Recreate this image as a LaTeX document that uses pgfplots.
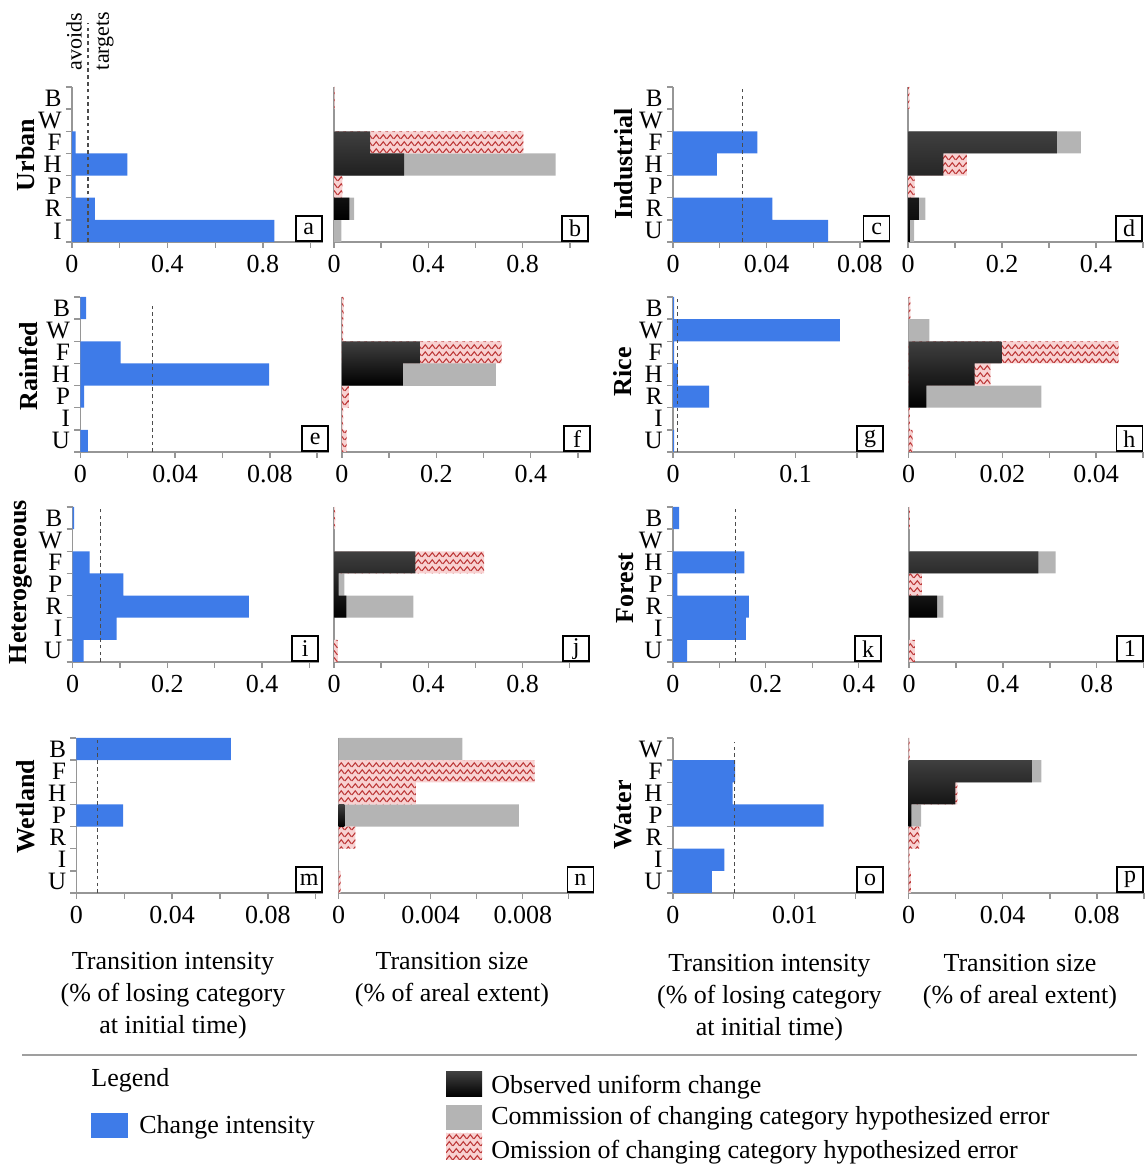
\documentclass[border=0pt]{standalone}
\usepackage{fontspec}
\setmainfont{Liberation Serif}
\usepackage{pgfplots}
\pgfplotsset{compat=1.18}
\usetikzlibrary{patterns.meta}
\definecolor{cblue}{RGB}{62,123,232}
\definecolor{cgray}{RGB}{180,180,180}
\definecolor{cpink}{RGB}{248,210,210}
\definecolor{czig}{RGB}{190,60,60}
\definecolor{caxis}{RGB}{150,150,150}
\tikzdeclarepattern{
  name=zigzag,
  type=uncolored,
  bounding box={(0pt,0pt) and (3.6pt,3.6pt)},
  tile size={(3.6pt,3.6pt)},
  code={\draw[line width=0.6pt] (0pt,0.6pt) -- (1.8pt,2.9pt) -- (3.6pt,0.6pt);}
}
\pgfplotsset{
  panel/.style={
    scale only axis, height=77.5pt, anchor=south west, clip=false,
    xmin=0, ymin=-0.5, ymax=6.5,
    axis x line*=bottom, axis y line*=left,
    axis line style={draw=caxis, line width=0.7pt, -},
    tick align=outside, major tick length=3pt, minor tick length=3pt,
    tick style={draw=caxis, line width=0.7pt},
    ytick={0,...,6},
    major y tick style={draw=none},
    minor ytick={-0.5,0.5,1.5,2.5,3.5,4.5,5.5,6.5},
    yticklabel style={font=\fontsize{12.5}{12.5}\selectfont, inner sep=2pt},
    xticklabel style={font=\fontsize{13}{13}\selectfont},
    /pgf/number format/fixed, /pgf/number format/precision=3,
    /pgf/number format/assume math mode=true,
    scaled x ticks=false,
  },
  sizepanel/.style={panel, ytick=\empty},
  blue/.style={xbar, bar shift=0pt, bar width=1, fill=cblue, draw=none},
  obs/.style={xbar, bar shift=0pt, bar width=1, draw=none, top color=gray!50!black, bottom color=black},
  com/.style={xbar, bar shift=0pt, bar width=1, draw=none, fill=cgray},
  omi/.style={xbar, bar shift=0pt, bar width=1, draw=none, fill=cpink, postaction={pattern=zigzag, pattern color=czig}},
  unif/.style={draw=black!70, line width=0.8pt, dash pattern=on 1.8pt off 1.6pt, mark=none},
}
\newcommand{\plabel}[1]{\node[draw=black, line width=0.8pt, fill=white, anchor=south east, minimum width=13pt, minimum height=12.5pt, inner sep=0pt, font=\fontsize{12}{12}\selectfont] at (rel axis cs:1,0) {#1};}
\begin{document}
\begin{tikzpicture}
\useasboundingbox (0pt,0pt) rectangle (573pt,583.5pt);
% ---------------- Row 1 ----------------
\begin{axis}[panel, at={(36pt,462.5pt)}, width=125.3pt, xmax=1.05,
  xtick={0,0.4,0.8}, minor xtick={0.2,0.6,1.0}, yticklabels={I,R,P,H,F,W,B}]
\addplot[blue] coordinates {(0.015,4)(0.232,3)(0.015,2)(0.096,1)(0.848,0)};
\addplot[unif] coordinates {(0.067,-0.5)(0.067,9.4)};
\plabel{a}
\end{axis}
\begin{axis}[sizepanel, at={(167pt,462.5pt)}, width=127.4pt, xmax=1.08,
  xtick={0,0.4,0.8}, minor xtick={0.2,0.6,1.0}]
\addplot[com] coordinates {(0.939,3)(0.085,1)(0.031,0)};
\addplot[omi] coordinates {(0.003,6)(0.803,4)(0.036,2)};
\addplot[obs] coordinates {(0.153,4)(0.297,3)(0.065,1)};
\plabel{b}
\end{axis}
\begin{axis}[panel, at={(336.5pt,462.5pt)}, width=108.7pt, xmax=0.093,
  xtick={0,0.04,0.08}, minor xtick={0.02,0.06}, yticklabels={U,R,P,H,F,W,B}]
\addplot[blue] coordinates {(0.0361,4)(0.0188,3)(0.0425,1)(0.0664,0)};
\addplot[unif] coordinates {(0.0297,-0.5)(0.0297,6.5)};
\plabel{c}
\end{axis}
\begin{axis}[sizepanel, at={(454pt,462.5pt)}, width=117.5pt, xmax=0.5,
  xtick={0,0.2,0.4}, minor xtick={0.1,0.3,0.5}]
\addplot[com] coordinates {(0.368,4)(0.037,1)(0.013,0)};
\addplot[omi] coordinates {(0.003,6)(0.125,3)(0.014,2)};
\addplot[obs] coordinates {(0.317,4)(0.075,3)(0.023,1)(0.004,0)};
\plabel{d}
\end{axis}
% ---------------- Row 2 ----------------
\begin{axis}[panel, at={(40.2pt,357.5pt)}, width=124.3pt, xmax=0.105,
  xtick={0,0.04,0.08}, minor xtick={0.02,0.06,0.1}, yticklabels={U,I,P,H,F,W,B}]
\addplot[blue] coordinates {(0.0024,6)(0.017,4)(0.0797,3)(0.0016,2)(0.0032,0)};
\addplot[unif] coordinates {(0.0304,-0.5)(0.0304,6.2)};
\plabel{e}
\end{axis}
\begin{axis}[sizepanel, at={(170.9pt,357.5pt)}, width=124.5pt, xmax=0.527,
  xtick={0,0.2,0.4}, minor xtick={0.1,0.3,0.5}]
\addplot[com] coordinates {(0.326,3)};
\addplot[omi] coordinates {(0.004,6)(0.003,5)(0.338,4)(0.015,2)(0.003,1)(0.01,0)};
\addplot[obs] coordinates {(0.165,4)(0.129,3)};
\plabel{f}
\end{axis}
\begin{axis}[panel, at={(336.5pt,357.5pt)}, width=105.5pt, xmax=0.172,
  xtick={0,0.1}, minor xtick={0.05,0.15}, yticklabels={U,I,R,H,F,W,B}]
\addplot[blue] coordinates {(0.001,6)(0.136,5)(0.001,4)(0.004,3)(0.0294,2)(0.001,0)};
\addplot[unif] coordinates {(0.0035,-0.5)(0.0035,6.5)};
\plabel{g}
\end{axis}
\begin{axis}[sizepanel, at={(454.25pt,357.5pt)}, width=117.3pt, xmax=0.05,
  xtick={0,0.02,0.04}, minor xtick={0.01,0.03,0.05}]
\addplot[com] coordinates {(0.00446,5)(0.0283,2)};
\addplot[omi] coordinates {(0.0004,6)(0.0448,4)(0.0175,3)(0.0003,1)(0.0009,0)};
\addplot[obs] coordinates {(0.0198,4)(0.0141,3)(0.0038,2)};
\plabel{h}
\end{axis}
% ---------------- Row 3 ----------------
\begin{axis}[panel, at={(36.35pt,252.5pt)}, width=123.1pt, xmax=0.52,
  xtick={0,0.2,0.4}, minor xtick={0.1,0.3,0.5}, yticklabels={U,I,R,P,F,W,B}]
\addplot[blue] coordinates {(0.003,6)(0.036,4)(0.107,3)(0.372,2)(0.093,1)(0.023,0)};
\addplot[unif] coordinates {(0.059,-0.5)(0.059,6.5)};
\plabel{i}
\end{axis}
\begin{axis}[sizepanel, at={(167pt,252.5pt)}, width=128pt, xmax=1.086,
  xtick={0,0.4,0.8}, minor xtick={0.2,0.6,1.0}]
\addplot[com] coordinates {(0.044,3)(0.337,2)};
\addplot[omi] coordinates {(0.005,6)(0.637,4)(0.016,0)};
\addplot[obs] coordinates {(0.345,4)(0.02,3)(0.052,2)};
\plabel{j}
\end{axis}
\begin{axis}[panel, at={(336.4pt,252.5pt)}, width=104.6pt, xmax=0.45,
  xtick={0,0.2,0.4}, minor xtick={0.1,0.3}, yticklabels={U,I,R,P,H,W,B}]
\addplot[blue] coordinates {(0.0138,6)(0.154,4)(0.01,3)(0.1635,2)(0.157,1)(0.031,0)};
\addplot[unif] coordinates {(0.135,-0.5)(0.135,6.5)};
\plabel{k}
\end{axis}
\begin{axis}[sizepanel, at={(454.5pt,252.5pt)}, width=117.35pt, xmax=1.0,
  xtick={0,0.4,0.8}, minor xtick={0.2,0.6,1.0}]
\addplot[com] coordinates {(0.625,4)(0.146,2)};
\addplot[omi] coordinates {(0.004,6)(0.055,3)(0.025,0)};
\addplot[obs] coordinates {(0.551,4)(0.12,2)};
\plabel{1}
\end{axis}
% ---------------- Row 4 ----------------
\begin{axis}[panel, at={(38.25pt,137pt)}, width=123.2pt, xmax=0.103,
  xtick={0,0.04,0.08}, minor xtick={0.02,0.06,0.1}, yticklabels={U,I,R,P,H,F,B}]
\addplot[blue] coordinates {(0.0645,6)(0.0195,3)};
\addplot[unif] coordinates {(0.0088,-0.5)(0.0088,6.5)};
\plabel{m}
\end{axis}
\begin{axis}[sizepanel, at={(169.35pt,137pt)}, width=127.7pt, xmax=0.0111,
  xtick={0,0.004,0.008}, minor xtick={0.002,0.006,0.01}]
\addplot[com] coordinates {(0.00537,6)(0.00783,3)};
\addplot[omi] coordinates {(0.00852,5)(0.00335,4)(0.00072,2)(0.00008,0)};
\addplot[obs] coordinates {(0.00025,3)};
\plabel{n}
\end{axis}
\begin{axis}[panel, at={(336.4pt,137pt)}, width=105.5pt, xmax=0.0173,
  xtick={0,0.01}, minor xtick={0.005,0.015}, yticklabels={U,I,R,P,H,F,W}]
\addplot[blue] coordinates {(0.0051,5)(0.0049,4)(0.01237,3)(0.00423,1)(0.0032,0)};
\addplot[unif] coordinates {(0.00505,-0.5)(0.00505,6.3)};
\plabel{o}
\end{axis}
\begin{axis}[sizepanel, at={(454.25pt,137pt)}, width=117.75pt, xmax=0.1,
  xtick={0,0.04,0.08}, minor xtick={0.02,0.06,0.1}]
\addplot[com] coordinates {(0.0564,5)(0.0054,3)};
\addplot[omi] coordinates {(0.0005,6)(0.0207,4)(0.0046,2)(0.0005,1)(0.001,0)};
\addplot[obs] coordinates {(0.0524,5)(0.0199,4)(0.0012,3)};
\plabel{p}
\end{axis}
% ---------------- Panel names ----------------
\begin{scope}[every node/.style={rotate=90, font=\fontsize{13}{13}\selectfont\bfseries}]
\node at (13pt,506pt) {Urban};
\node at (312pt,501.5pt) {Industrial};
\node at (14pt,400.5pt) {Rainfed};
\node at (311.5pt,397.5pt) {Rice};
\node at (10.5pt,292.5pt) {Heterogeneous};
\node at (312.5pt,289.5pt) {Forest};
\node at (13pt,180pt) {Wetland};
\node at (311.5pt,176pt) {Water};
\end{scope}
\node[rotate=90, font=\fontsize{11}{11}\selectfont] at (37pt,562.5pt) {avoids};
\node[rotate=90, font=\fontsize{11}{11}\selectfont] at (52.5pt,563pt) {targets};
% ---------------- Axis titles ----------------
\begin{scope}[every node/.style={anchor=base, font=\fontsize{13}{13}\selectfont}]
\node at (86.5pt,98.5pt) {Transition intensity};
\node at (86.5pt,82.5pt) {(\% of losing category};
\node at (86.5pt,66.5pt) {at initial time)};
\node at (226pt,98.5pt) {Transition size};
\node at (226pt,82.5pt) {(\% of areal extent)};
\node at (384.7pt,97.5pt) {Transition intensity};
\node at (384.7pt,81.5pt) {(\% of losing category};
\node at (384.7pt,65.5pt) {at initial time)};
\node at (510pt,97.5pt) {Transition size};
\node at (510pt,81.5pt) {(\% of areal extent)};
\end{scope}
\draw[draw=gray!75, line width=1.2pt] (11pt,56pt) -- (568.5pt,56pt);
% ---------------- Legend ----------------
\begin{scope}[every node/.style={anchor=west, font=\fontsize{13}{13}\selectfont, inner sep=0pt}]
\node at (45.5pt,43.5pt) {Legend};
\fill[cblue] (45.5pt,14.5pt) rectangle (64pt,27pt);
\node at (69.5pt,20pt) {Change intensity};
\path[top color=gray!50!black, bottom color=black] (223pt,35pt) rectangle (241pt,47.5pt);
\node at (245.5pt,40pt) {Observed uniform change};
\fill[cgray] (223pt,18.5pt) rectangle (241pt,31pt);
\node at (245.5pt,24.5pt) {Commission of changing category hypothesized error};
\path[fill=cpink, postaction={pattern=zigzag, pattern color=czig}] (223pt,3.5pt) rectangle (241pt,17pt);
\node at (245.5pt,7.5pt) {Omission of changing category hypothesized error};
\end{scope}
\end{tikzpicture}
\end{document}
